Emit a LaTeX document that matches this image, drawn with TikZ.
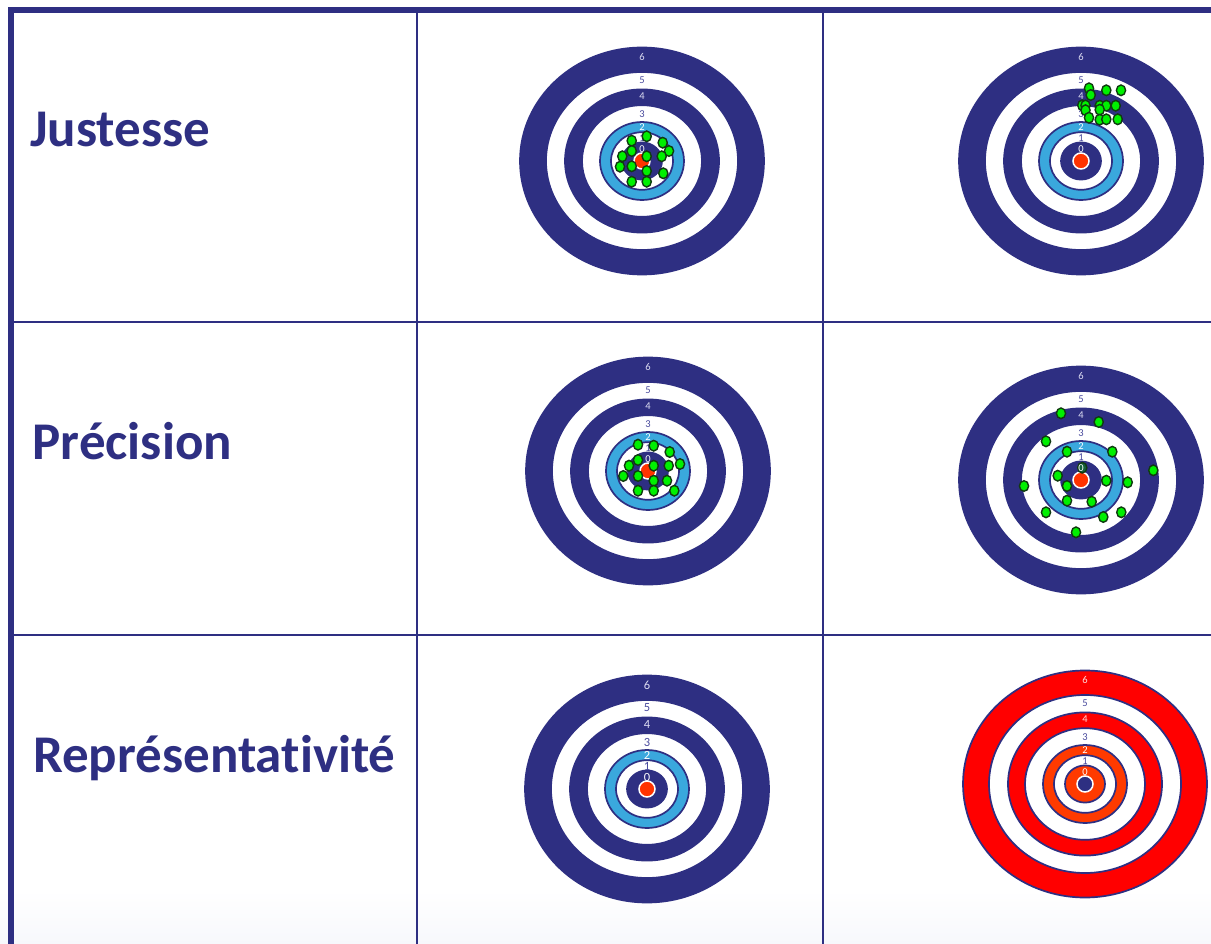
\documentclass[tikz,border=0pt]{standalone}
\usepackage{fontspec}
\setmainfont{Carlito}[Ligatures=NoCommon]

\definecolor{navy}{HTML}{2E2F82}
\definecolor{ringblue}{HTML}{3AA8DD}
\definecolor{bullred}{HTML}{FF3300}
\definecolor{brightred}{HTML}{FF0000}
\definecolor{orangered}{HTML}{FF3A00}
\definecolor{shotgreen}{HTML}{00F000}
\definecolor{shotdark}{HTML}{14623A}
\definecolor{shotline}{HTML}{103A10}
\definecolor{paletxt}{HTML}{DCDCF2}
\definecolor{darktxt}{HTML}{4A4B9E}
\definecolor{pinktxt}{HTML}{FFDADA}
\definecolor{paperfade}{HTML}{F7F8FC}

\tikzset{
  rule/.style={draw=navy, line join=miter},
  rowtitle/.style={anchor=base west, inner sep=0pt, text=navy,
    font=\fontsize{53}{60}\selectfont\bfseries},
  ringline/.style={draw=navy, line width=1.7pt},
  shot/.style={fill=shotgreen, draw=shotline, line width=1.4pt},
  ringlbl/.style={inner sep=0pt, anchor=center},
}

% rings of a target: #1 name, #2 centre, #3 band colour (6,4),
% #4 ring-2 colour, #5 disc colour, #6 bull colour
\newcommand\targetrings[6]{%
  \begin{scope}[shift={#2}]
    \coordinate (#1) at (0,0);
    \filldraw[ringline, fill=#3]    (0,0) ellipse [x radius=122pt, y radius=113.5pt];
    \filldraw[ringline, fill=white] (0,0) ellipse [x radius=96pt,  y radius=89pt];
    \filldraw[ringline, fill=#3]    (0,0) ellipse [x radius=77pt,  y radius=71.6pt];
    \filldraw[ringline, fill=white] (0,0) ellipse [x radius=60pt,  y radius=55.8pt];
    \filldraw[ringline, fill=#4]    (0,0) ellipse [x radius=42pt,  y radius=39pt];
    \filldraw[ringline, fill=white] (0,0) ellipse [x radius=31pt,  y radius=28.8pt];
    \filldraw[ringline, fill=#5]    (0,0) ellipse [x radius=20pt,  y radius=18.6pt];
    \filldraw[draw=white, line width=1.5pt, fill=#6] (0,0) circle [radius=8pt];
  \end{scope}}

% score labels of a target: #1 name, #2 centre, #3 font size, #4 light colour
\newcommand\targetlabels[4]{%
  \begin{scope}[shift={#2}, every node/.style={ringlbl, font=\fontsize{#3}{#3}\selectfont}]
    \node[text=#4]      (#1-6) at (0,-104) {6};
    \node[text=darktxt] (#1-5) at (0,-81)  {5};
    \node[text=#4]      (#1-4) at (0,-65)  {4};
    \node[text=darktxt] (#1-3) at (0,-47)  {3};
    \node[text=white]   (#1-2) at (0,-34)  {2};
    \node[text=darktxt] (#1-1) at (0,-22.5){1};
    \node[text=white]   (#1-0) at (0,-11.5){0};
  \end{scope}}

\newcommand\shots[1]{%
  \foreach \sx/\sy in {#1}
    \filldraw[shot] (\sx,\sy) ellipse [x radius=4.6pt, y radius=5.3pt];}

\begin{document}
\begin{tikzpicture}[x=1pt, y=-1pt]
\useasboundingbox (0,0) rectangle (1211,944);
\fill[white] (0,0) rectangle (1211,944);
\shade[top color=white, bottom color=paperfade] (0,890) rectangle (1211,944);

% grid of the table
\draw[rule, line width=2pt] (417,10) -- (417,944);
\draw[rule, line width=2pt] (823,10) -- (823,944);
\draw[rule, line width=2pt] (10,322.3) -- (1211,322.3);
\draw[rule, line width=2pt] (10,634.8) -- (1211,634.8);
\draw[rule, line width=6pt] (10.6,944) -- (10.6,10.3) -- (1211,10.3);

% row titles
\node[rowtitle] (justesse) at (30,147)   {Justesse};
\node[rowtitle] (precision) at (32.5,459.5) {Précision};
\node[rowtitle] (represent) at (33,772.3) {Représentativité};

% row 1
\targetrings{tA}{(642,161)}{navy}{ringblue}{navy}{bullred}
\targetlabels{tA}{(642,161)}{10.5}{paletxt}
\shots{631.7/140.7, 646.7/136.3, 662.7/142.7, 669/151, 631.7/151,
       622.3/156.3, 646.7/156.3, 661.7/156.3, 620/166.7, 631.7/166.3,
       646.7/171, 663.3/173.3, 631.7/181.7, 646.7/181.7}

\targetrings{tB}{(1081,161)}{navy}{ringblue}{navy}{bullred}
\targetlabels{tB}{(1081,161)}{10.5}{paletxt}
\shots{1082.3/105.3, 1085.5/105.5, 1085.5/110.2,
       1089/88.3, 1106.3/90.3, 1121/90.3, 1090.7/95,
       1099.7/105.7, 1106.3/105.7, 1115.7/105.7, 1099.7/109.7,
       1089/117.7, 1099.7/119.7, 1106.3/119.3, 1117.7/119.3}

% row 2
\targetrings{tC}{(648,471)}{navy}{ringblue}{navy}{bullred}
\targetlabels{tC}{(648,471)}{10.5}{paletxt}
\shots{638/444.7, 653.7/445.7, 669.7/452, 680/464, 638/460,
       629/465.7, 653.7/465.7, 668.7/465.7, 623.3/476, 638/476,
       653.7/480.7, 667/480.7, 638/490.7, 653.7/490.7, 674.3/490.7}

\targetrings{tD}{(1081,480)}{navy}{ringblue}{navy}{bullred}
\shots{1061/413.3, 1098.7/422, 1046/441.3, 1067/451.7, 1112.3/451.7,
       1153.3/470.3, 1057.7/475.7, 1024/486, 1067/486, 1106.3/480.7,
       1127.7/482.3, 1067/500.7, 1091.7/501.7, 1046/512.3, 1121.3/512.3,
       1103.3/517, 1076/532.3}
\filldraw[shot, fill=shotdark] (1082.3,467.7) ellipse [x radius=4.6pt, y radius=5.3pt];
\targetlabels{tD}{(1081,480)}{10.5}{paletxt}

% row 3
\targetrings{tE}{(647,789)}{navy}{ringblue}{navy}{bullred}
\targetlabels{tE}{(647,789)}{12.5}{paletxt}

\targetrings{tF}{(1085,784)}{brightred}{orangered}{orangered}{navy}
\targetlabels{tF}{(1085,784)}{10.5}{pinktxt}
\end{tikzpicture}
\end{document}
